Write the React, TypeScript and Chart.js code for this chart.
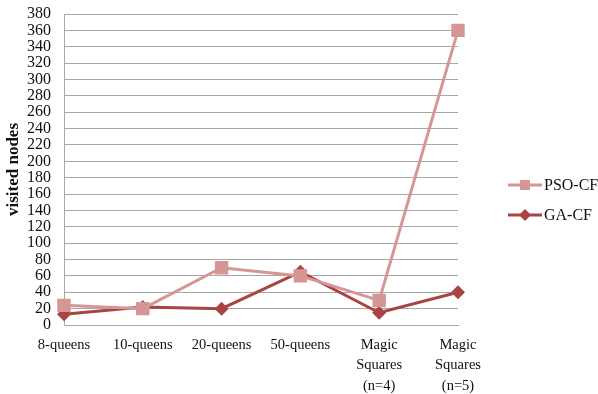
import React, { useEffect, useRef } from "react";
import { Chart, registerables } from "chart.js";

Chart.register(...registerables);

const categories: (string | string[])[] = [
  "8-queens",
  "10-queens",
  "20-queens",
  "50-queens",
  ["Magic", "Squares", "(n=4)"],
  ["Magic", "Squares", "(n=5)"],
];
const psoCF = [24, 20, 70, 60, 30, 360];
const gaCF = [13, 22, 20, 65, 15, 40];
const seriesNames = ["PSO-CF", "GA-CF"];
const yTitle = "visited nodes";

const PSO_COLOR = "#D49795";
const GA_COLOR = "#A94442";
const GRID = "#A8A8A8";
const FONT = "'Liberation Serif', 'Times New Roman', serif";

const legendPlugin = {
  id: "customLegend",
  afterDraw(chart: any) {
    const ctx = chart.ctx;
    const items = [
      { name: seriesNames[0], color: PSO_COLOR, style: "rect", y: 185 },
      { name: seriesNames[1], color: GA_COLOR, style: "rectRot", y: 215 },
    ];
    ctx.save();
    items.forEach((it) => {
      ctx.strokeStyle = it.color;
      ctx.lineWidth = 3;
      ctx.beginPath();
      ctx.moveTo(508, it.y);
      ctx.lineTo(542, it.y);
      ctx.stroke();
      ctx.fillStyle = it.color;
      ctx.beginPath();
      if (it.style === "rect") {
        ctx.rect(525 - 5, it.y - 5, 10, 10);
      } else {
        ctx.moveTo(525 - 6, it.y);
        ctx.lineTo(525, it.y - 6);
        ctx.lineTo(525 + 6, it.y);
        ctx.lineTo(525, it.y + 6);
        ctx.closePath();
      }
      ctx.fill();
      ctx.fillStyle = "#111";
      ctx.font = `16px ${FONT}`;
      ctx.textAlign = "left";
      ctx.textBaseline = "middle";
      ctx.fillText(it.name, 544, it.y + 1);
    });
    ctx.restore();
  },
};

export default function App() {
  const ref = useRef<HTMLCanvasElement>(null);
  useEffect(() => {
    document.body.style.margin = "0";
    const chart = new Chart(ref.current as HTMLCanvasElement, {
      type: "line",
      data: {
        labels: categories,
        datasets: [
          {
            label: seriesNames[0],
            data: psoCF,
            borderColor: PSO_COLOR,
            backgroundColor: PSO_COLOR,
            borderWidth: 3,
            pointStyle: "rect",
            pointRadius: 9.5,
            pointBorderWidth: 0,
            pointHoverRadius: 9.5,
            tension: 0,
          },
          {
            label: seriesNames[1],
            data: gaCF,
            borderColor: GA_COLOR,
            backgroundColor: GA_COLOR,
            borderWidth: 3,
            pointStyle: "rectRot",
            pointRadius: 7,
            pointBorderWidth: 0,
            pointHoverRadius: 7,
            tension: 0,
          },
        ],
      },
      options: {
        responsive: false,
        animation: false,
        devicePixelRatio: 1,
        layout: { padding: { top: 0, right: 140, bottom: 0, left: 0 } },
        plugins: {
          legend: { display: false },
          tooltip: { enabled: false },
        },
        scales: {
          x: {
            type: "category",
            offset: false,
            grid: { display: false, drawTicks: false },
            border: { display: true, color: GRID, width: 1 },
            ticks: {
              color: "#111",
              font: { family: FONT, size: 14.5, lineHeight: 1.4 },
              padding: 10,
              maxRotation: 0,
              autoSkip: false,
            },
            afterFit(scale: any) {
              scale.height = 69;
            },
          },
          y: {
            min: 0,
            max: 380,
            grid: { color: GRID, lineWidth: 1, drawTicks: false },
            border: { display: true, color: GRID, width: 1 },
            ticks: {
              stepSize: 20,
              autoSkip: false,
              color: "#111",
              font: { family: FONT, size: 16, lineHeight: 1 },
              padding: 13,
            },
            title: {
              display: true,
              text: yTitle,
              color: "#111",
              font: { family: FONT, size: 17, weight: "bold" },
              padding: { top: 3, bottom: 3 },
            },
            afterFit(scale: any) {
              scale.width = 64;
              scale.paddingTop = 14;
              scale.paddingBottom = 0;
            },
          },
        },
      },
      plugins: [legendPlugin],
    } as any);
    return () => chart.destroy();
  }, []);
  return (
    <div style={{ position: "fixed", left: 0, top: 0, width: 598, height: 394, background: "#fff" }}>
      <canvas ref={ref} width={598} height={394} />
    </div>
  );
}
